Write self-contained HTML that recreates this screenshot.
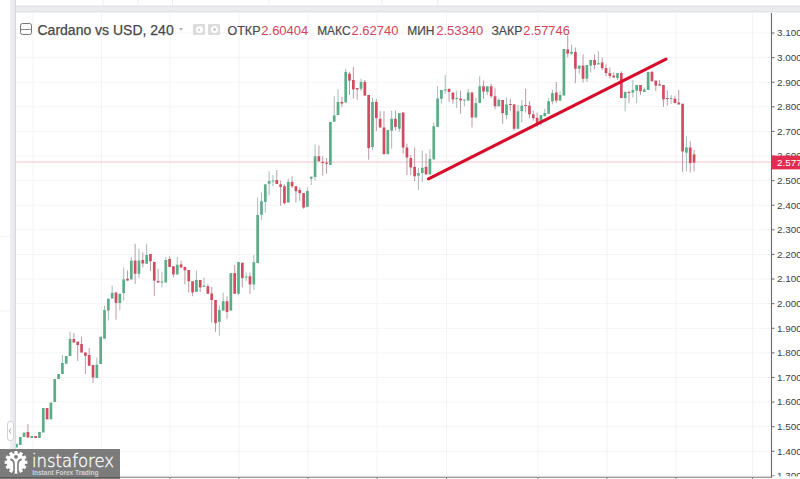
<!DOCTYPE html>
<html><head><meta charset="utf-8"><title>Cardano vs USD</title>
<style>
html,body{margin:0;padding:0;background:#fff;}
body{width:800px;height:479px;position:relative;overflow:hidden;font-family:"Liberation Sans",Arial,sans-serif;}
.abs{position:absolute;white-space:nowrap;}
#topband{position:absolute;left:15px;top:5px;width:785px;height:8.3px;background:linear-gradient(to bottom,#f0f1f3 0,#f0f1f3 1.4px,#e2e4e7 1.4px,#e2e4e7 2.4px,#ebecee 2.4px,#ebecee 6.2px,#e2e4e7 6.2px,#e2e4e7 7.2px,#eff0f2 7.2px);}
#leftband{position:absolute;left:9.5px;top:0;width:6.5px;height:479px;background:linear-gradient(to right,#eef0f2,#e6e9ed);border-right:1px solid #d6dade;box-sizing:border-box;}
.lbl{font-size:12.4px;color:#4a4a4a;top:23px;line-height:14px;}
.val{font-size:13px;color:#d2435d;top:23px;line-height:14px;}
#root{position:absolute;left:0;top:0;width:800px;height:479px;overflow:hidden;background:#fff;}
</style></head><body><div id="root">
<svg width="800" height="479" viewBox="0 0 800 479" style="position:absolute;left:0;top:0">
<g stroke="#f4f4f4" stroke-width="1"><line x1="33" y1="13" x2="33" y2="477" /><line x1="101.5" y1="13" x2="101.5" y2="477" /><line x1="170" y1="13" x2="170" y2="477" /><line x1="239" y1="13" x2="239" y2="477" /><line x1="308" y1="13" x2="308" y2="477" /><line x1="377" y1="13" x2="377" y2="477" /><line x1="446.5" y1="13" x2="446.5" y2="477" /><line x1="538" y1="13" x2="538" y2="477" /><line x1="607" y1="13" x2="607" y2="477" /><line x1="676" y1="13" x2="676" y2="477" /><line x1="752.5" y1="13" x2="752.5" y2="477" /><line x1="16" y1="33.0" x2="771" y2="33.0" /><line x1="16" y1="57.61" x2="771" y2="57.61" /><line x1="16" y1="82.21" x2="771" y2="82.21" /><line x1="16" y1="106.82" x2="771" y2="106.82" /><line x1="16" y1="131.42" x2="771" y2="131.42" /><line x1="16" y1="156.03" x2="771" y2="156.03" /><line x1="16" y1="180.64" x2="771" y2="180.64" /><line x1="16" y1="205.24" x2="771" y2="205.24" /><line x1="16" y1="229.85" x2="771" y2="229.85" /><line x1="16" y1="254.45" x2="771" y2="254.45" /><line x1="16" y1="279.06" x2="771" y2="279.06" /><line x1="16" y1="303.67" x2="771" y2="303.67" /><line x1="16" y1="328.27" x2="771" y2="328.27" /><line x1="16" y1="352.88" x2="771" y2="352.88" /><line x1="16" y1="377.48" x2="771" y2="377.48" /><line x1="16" y1="402.09" x2="771" y2="402.09" /><line x1="16" y1="426.7" x2="771" y2="426.7" /><line x1="16" y1="451.3" x2="771" y2="451.3" /><line x1="16" y1="475.91" x2="771" y2="475.91" /></g>
<g stroke="#eeeeee" stroke-width="1"><line x1="103" y1="0" x2="103" y2="6"/><line x1="138" y1="0" x2="138" y2="6"/><line x1="172.5" y1="0" x2="172.5" y2="6"/><line x1="269" y1="0" x2="269" y2="6"/><line x1="382" y1="0" x2="382" y2="6"/><line x1="437.7" y1="0" x2="437.7" y2="6"/></g>
<g stroke="#f1f1f1" stroke-width="1"><line x1="0" y1="236.7" x2="10" y2="236.7"/><line x1="0" y1="311" x2="10" y2="311"/></g>
<line x1="16" y1="162" x2="771" y2="162" stroke="#f5c3cb" stroke-width="1"/>
<g><rect x="15.12" y="443.8" width="2.7" height="3.70" fill="#5cac88"/><rect x="18.94" y="437.0" width="2.7" height="8.00" fill="#5cac88"/><rect x="22.77" y="432.5" width="2.7" height="4.50" fill="#5cac88"/><line x1="27.95" y1="424.0" x2="27.95" y2="437.5" stroke="#a07080" stroke-width="1.0" stroke-opacity="0.7"/><rect x="26.60" y="432.0" width="2.7" height="5.50" fill="#d04c60"/><rect x="30.43" y="436.0" width="2.7" height="2.00" fill="#5cac88"/><rect x="34.26" y="436.0" width="2.7" height="2.00" fill="#d04c60"/><rect x="38.09" y="432.0" width="2.7" height="6.00" fill="#5cac88"/><rect x="41.91" y="408.0" width="2.7" height="24.50" fill="#5cac88"/><rect x="45.74" y="408.0" width="2.7" height="11.40" fill="#d04c60"/><rect x="49.57" y="402.5" width="2.7" height="16.90" fill="#5cac88"/><rect x="53.40" y="379.0" width="2.7" height="23.00" fill="#5cac88"/><rect x="57.23" y="374.0" width="2.7" height="5.00" fill="#5cac88"/><line x1="62.41" y1="355.0" x2="62.41" y2="374.0" stroke="#80a098" stroke-width="1.0" stroke-opacity="0.7"/><rect x="61.06" y="363.0" width="2.7" height="11.00" fill="#5cac88"/><rect x="64.88" y="356.0" width="2.7" height="7.70" fill="#5cac88"/><line x1="70.06" y1="331.7" x2="70.06" y2="356.0" stroke="#80a098" stroke-width="1.0" stroke-opacity="0.7"/><rect x="68.71" y="339.0" width="2.7" height="17.00" fill="#5cac88"/><line x1="73.89" y1="333.0" x2="73.89" y2="342.5" stroke="#a07080" stroke-width="1.0" stroke-opacity="0.7"/><rect x="72.54" y="339.0" width="2.7" height="3.50" fill="#d04c60"/><line x1="77.72" y1="341.7" x2="77.72" y2="361.0" stroke="#a07080" stroke-width="1.0" stroke-opacity="0.7"/><rect x="76.37" y="341.7" width="2.7" height="3.30" fill="#d04c60"/><line x1="81.55" y1="336.7" x2="81.55" y2="352.5" stroke="#a07080" stroke-width="1.0" stroke-opacity="0.7"/><rect x="80.20" y="344.0" width="2.7" height="8.50" fill="#d04c60"/><line x1="85.38" y1="352.5" x2="85.38" y2="374.0" stroke="#a07080" stroke-width="1.0" stroke-opacity="0.7"/><rect x="84.03" y="352.5" width="2.7" height="3.30" fill="#d04c60"/><line x1="89.20" y1="348.0" x2="89.20" y2="365.8" stroke="#a07080" stroke-width="1.0" stroke-opacity="0.7"/><rect x="87.85" y="355.0" width="2.7" height="10.80" fill="#d04c60"/><line x1="93.03" y1="365.0" x2="93.03" y2="383.0" stroke="#a07080" stroke-width="1.0" stroke-opacity="0.7"/><rect x="91.68" y="365.0" width="2.7" height="12.50" fill="#d04c60"/><line x1="96.86" y1="357.5" x2="96.86" y2="378.0" stroke="#80a098" stroke-width="1.0" stroke-opacity="0.7"/><rect x="95.51" y="364.7" width="2.7" height="13.30" fill="#5cac88"/><rect x="99.34" y="336.7" width="2.7" height="27.30" fill="#5cac88"/><line x1="104.52" y1="305.6" x2="104.52" y2="338.7" stroke="#80a098" stroke-width="1.0" stroke-opacity="0.7"/><rect x="103.17" y="310.0" width="2.7" height="28.70" fill="#5cac88"/><line x1="108.35" y1="298.7" x2="108.35" y2="320.6" stroke="#80a098" stroke-width="1.0" stroke-opacity="0.7"/><rect x="107.00" y="298.7" width="2.7" height="11.90" fill="#5cac88"/><line x1="112.17" y1="285.6" x2="112.17" y2="298.5" stroke="#80a098" stroke-width="1.0" stroke-opacity="0.7"/><rect x="110.82" y="292.9" width="2.7" height="5.60" fill="#5cac88"/><line x1="116.00" y1="292.5" x2="116.00" y2="319.7" stroke="#a07080" stroke-width="1.0" stroke-opacity="0.7"/><rect x="114.65" y="292.5" width="2.7" height="10.40" fill="#d04c60"/><line x1="119.83" y1="293.75" x2="119.83" y2="310.0" stroke="#80a098" stroke-width="1.0" stroke-opacity="0.7"/><rect x="118.48" y="293.75" width="2.7" height="9.25" fill="#5cac88"/><line x1="123.66" y1="267.5" x2="123.66" y2="300.6" stroke="#80a098" stroke-width="1.0" stroke-opacity="0.7"/><rect x="122.31" y="279.4" width="2.7" height="13.60" fill="#5cac88"/><line x1="127.49" y1="270.6" x2="127.49" y2="280.6" stroke="#a07080" stroke-width="1.0" stroke-opacity="0.7"/><rect x="126.14" y="278.75" width="2.7" height="1.85" fill="#d04c60"/><line x1="131.31" y1="257.0" x2="131.31" y2="279.4" stroke="#80a098" stroke-width="1.0" stroke-opacity="0.7"/><rect x="129.97" y="260.6" width="2.7" height="18.80" fill="#5cac88"/><line x1="135.14" y1="243.75" x2="135.14" y2="283.75" stroke="#a07080" stroke-width="1.0" stroke-opacity="0.7"/><rect x="133.79" y="260.6" width="2.7" height="13.15" fill="#d04c60"/><line x1="138.97" y1="248.75" x2="138.97" y2="278.0" stroke="#80a098" stroke-width="1.0" stroke-opacity="0.7"/><rect x="137.62" y="260.6" width="2.7" height="13.15" fill="#5cac88"/><line x1="142.80" y1="252.5" x2="142.80" y2="267.5" stroke="#a07080" stroke-width="1.0" stroke-opacity="0.7"/><rect x="141.45" y="260.0" width="2.7" height="3.50" fill="#d04c60"/><line x1="146.63" y1="243.75" x2="146.63" y2="263.75" stroke="#80a098" stroke-width="1.0" stroke-opacity="0.7"/><rect x="145.28" y="255.0" width="2.7" height="8.75" fill="#5cac88"/><line x1="150.46" y1="254.0" x2="150.46" y2="271.0" stroke="#a07080" stroke-width="1.0" stroke-opacity="0.7"/><rect x="149.11" y="254.0" width="2.7" height="7.25" fill="#d04c60"/><line x1="154.28" y1="261.9" x2="154.28" y2="296.0" stroke="#a07080" stroke-width="1.0" stroke-opacity="0.7"/><rect x="152.93" y="261.9" width="2.7" height="18.70" fill="#d04c60"/><line x1="158.11" y1="268.75" x2="158.11" y2="282.5" stroke="#a07080" stroke-width="1.0" stroke-opacity="0.7"/><rect x="156.76" y="281.0" width="2.7" height="1.50" fill="#d04c60"/><line x1="161.94" y1="272.0" x2="161.94" y2="287.5" stroke="#80a098" stroke-width="1.0" stroke-opacity="0.7"/><rect x="160.59" y="281.5" width="2.7" height="1.00" fill="#5cac88"/><line x1="165.77" y1="257.0" x2="165.77" y2="282.5" stroke="#80a098" stroke-width="1.0" stroke-opacity="0.7"/><rect x="164.42" y="260.0" width="2.7" height="22.50" fill="#5cac88"/><line x1="169.60" y1="256.25" x2="169.60" y2="266.9" stroke="#a07080" stroke-width="1.0" stroke-opacity="0.7"/><rect x="168.25" y="259.0" width="2.7" height="7.90" fill="#d04c60"/><line x1="173.43" y1="266.25" x2="173.43" y2="277.5" stroke="#a07080" stroke-width="1.0" stroke-opacity="0.7"/><rect x="172.08" y="266.25" width="2.7" height="8.15" fill="#d04c60"/><line x1="177.25" y1="256.9" x2="177.25" y2="274.4" stroke="#80a098" stroke-width="1.0" stroke-opacity="0.7"/><rect x="175.90" y="264.75" width="2.7" height="9.65" fill="#5cac88"/><line x1="181.08" y1="260.6" x2="181.08" y2="267.5" stroke="#a07080" stroke-width="1.0" stroke-opacity="0.7"/><rect x="179.73" y="264.4" width="2.7" height="3.10" fill="#d04c60"/><line x1="184.91" y1="266.9" x2="184.91" y2="284.4" stroke="#a07080" stroke-width="1.0" stroke-opacity="0.7"/><rect x="183.56" y="266.9" width="2.7" height="3.35" fill="#d04c60"/><line x1="188.74" y1="270.0" x2="188.74" y2="292.5" stroke="#a07080" stroke-width="1.0" stroke-opacity="0.7"/><rect x="187.39" y="270.0" width="2.7" height="11.25" fill="#d04c60"/><line x1="192.57" y1="281.25" x2="192.57" y2="296.25" stroke="#a07080" stroke-width="1.0" stroke-opacity="0.7"/><rect x="191.22" y="281.25" width="2.7" height="11.25" fill="#d04c60"/><line x1="196.40" y1="270.6" x2="196.40" y2="291.9" stroke="#80a098" stroke-width="1.0" stroke-opacity="0.7"/><rect x="195.05" y="280.0" width="2.7" height="11.90" fill="#5cac88"/><line x1="200.22" y1="280.0" x2="200.22" y2="291.9" stroke="#a07080" stroke-width="1.0" stroke-opacity="0.7"/><rect x="198.87" y="280.0" width="2.7" height="7.50" fill="#d04c60"/><line x1="204.05" y1="277.5" x2="204.05" y2="286.9" stroke="#80a098" stroke-width="1.0" stroke-opacity="0.7"/><rect x="202.70" y="285.6" width="2.7" height="1.30" fill="#5cac88"/><line x1="207.88" y1="283.75" x2="207.88" y2="293.75" stroke="#a07080" stroke-width="1.0" stroke-opacity="0.7"/><rect x="206.53" y="286.25" width="2.7" height="7.50" fill="#d04c60"/><line x1="211.71" y1="287.0" x2="211.71" y2="322.5" stroke="#a07080" stroke-width="1.0" stroke-opacity="0.7"/><rect x="210.36" y="293.5" width="2.7" height="6.50" fill="#d04c60"/><line x1="215.54" y1="300.0" x2="215.54" y2="331.9" stroke="#a07080" stroke-width="1.0" stroke-opacity="0.7"/><rect x="214.19" y="300.0" width="2.7" height="23.10" fill="#d04c60"/><line x1="219.37" y1="305.6" x2="219.37" y2="335.6" stroke="#80a098" stroke-width="1.0" stroke-opacity="0.7"/><rect x="218.02" y="310.0" width="2.7" height="11.90" fill="#5cac88"/><line x1="223.19" y1="292.5" x2="223.19" y2="310.6" stroke="#80a098" stroke-width="1.0" stroke-opacity="0.7"/><rect x="221.84" y="301.25" width="2.7" height="9.35" fill="#5cac88"/><line x1="227.02" y1="296.25" x2="227.02" y2="318.75" stroke="#a07080" stroke-width="1.0" stroke-opacity="0.7"/><rect x="225.67" y="301.25" width="2.7" height="10.65" fill="#d04c60"/><rect x="229.50" y="273.1" width="2.7" height="37.50" fill="#5cac88"/><line x1="234.68" y1="265.0" x2="234.68" y2="293.75" stroke="#a07080" stroke-width="1.0" stroke-opacity="0.7"/><rect x="233.33" y="273.1" width="2.7" height="20.65" fill="#d04c60"/><line x1="238.51" y1="261.9" x2="238.51" y2="295.0" stroke="#80a098" stroke-width="1.0" stroke-opacity="0.7"/><rect x="237.16" y="261.9" width="2.7" height="31.85" fill="#5cac88"/><line x1="242.34" y1="262.75" x2="242.34" y2="287.5" stroke="#a07080" stroke-width="1.0" stroke-opacity="0.7"/><rect x="240.99" y="262.75" width="2.7" height="15.35" fill="#d04c60"/><line x1="246.16" y1="272.5" x2="246.16" y2="281.25" stroke="#80a098" stroke-width="1.0" stroke-opacity="0.7"/><rect x="244.81" y="276.5" width="2.7" height="1.00" fill="#5cac88"/><line x1="249.99" y1="272.5" x2="249.99" y2="293.75" stroke="#a07080" stroke-width="1.0" stroke-opacity="0.7"/><rect x="248.64" y="276.25" width="2.7" height="8.15" fill="#d04c60"/><line x1="253.82" y1="255.0" x2="253.82" y2="290.0" stroke="#80a098" stroke-width="1.0" stroke-opacity="0.7"/><rect x="252.47" y="262.25" width="2.7" height="22.15" fill="#5cac88"/><line x1="257.65" y1="197.5" x2="257.65" y2="263.1" stroke="#80a098" stroke-width="1.0" stroke-opacity="0.7"/><rect x="256.30" y="215.0" width="2.7" height="48.10" fill="#5cac88"/><line x1="261.48" y1="192.5" x2="261.48" y2="220.0" stroke="#80a098" stroke-width="1.0" stroke-opacity="0.7"/><rect x="260.13" y="201.25" width="2.7" height="13.50" fill="#5cac88"/><line x1="265.31" y1="184.4" x2="265.31" y2="212.5" stroke="#80a098" stroke-width="1.0" stroke-opacity="0.7"/><rect x="263.96" y="184.4" width="2.7" height="17.50" fill="#5cac88"/><line x1="269.13" y1="171.25" x2="269.13" y2="195.0" stroke="#80a098" stroke-width="1.0" stroke-opacity="0.7"/><rect x="267.78" y="181.0" width="2.7" height="2.75" fill="#5cac88"/><line x1="272.96" y1="175.0" x2="272.96" y2="186.25" stroke="#80a098" stroke-width="1.0" stroke-opacity="0.7"/><rect x="271.61" y="180.5" width="2.7" height="1.00" fill="#5cac88"/><line x1="276.79" y1="170.0" x2="276.79" y2="184.0" stroke="#a07080" stroke-width="1.0" stroke-opacity="0.7"/><rect x="275.44" y="180.0" width="2.7" height="4.00" fill="#d04c60"/><line x1="280.62" y1="180.6" x2="280.62" y2="205.6" stroke="#a07080" stroke-width="1.0" stroke-opacity="0.7"/><rect x="279.27" y="184.4" width="2.7" height="2.50" fill="#d04c60"/><line x1="284.45" y1="184.4" x2="284.45" y2="204.4" stroke="#a07080" stroke-width="1.0" stroke-opacity="0.7"/><rect x="283.10" y="186.25" width="2.7" height="16.85" fill="#d04c60"/><line x1="288.28" y1="178.75" x2="288.28" y2="202.5" stroke="#80a098" stroke-width="1.0" stroke-opacity="0.7"/><rect x="286.93" y="181.9" width="2.7" height="20.60" fill="#5cac88"/><line x1="292.10" y1="176.25" x2="292.10" y2="188.0" stroke="#a07080" stroke-width="1.0" stroke-opacity="0.7"/><rect x="290.75" y="181.9" width="2.7" height="4.35" fill="#d04c60"/><line x1="295.93" y1="186.25" x2="295.93" y2="202.5" stroke="#a07080" stroke-width="1.0" stroke-opacity="0.7"/><rect x="294.58" y="186.25" width="2.7" height="5.00" fill="#d04c60"/><line x1="299.76" y1="187.5" x2="299.76" y2="201.0" stroke="#a07080" stroke-width="1.0" stroke-opacity="0.7"/><rect x="298.41" y="190.0" width="2.7" height="3.20" fill="#d04c60"/><line x1="303.59" y1="193.1" x2="303.59" y2="208.75" stroke="#a07080" stroke-width="1.0" stroke-opacity="0.7"/><rect x="302.24" y="193.1" width="2.7" height="14.40" fill="#d04c60"/><line x1="307.42" y1="187.5" x2="307.42" y2="206.9" stroke="#80a098" stroke-width="1.0" stroke-opacity="0.7"/><rect x="306.07" y="191.0" width="2.7" height="15.90" fill="#5cac88"/><line x1="311.25" y1="176.7" x2="311.25" y2="185.0" stroke="#80a098" stroke-width="1.0" stroke-opacity="0.7"/><rect x="309.90" y="176.7" width="2.7" height="2.05" fill="#5cac88"/><line x1="315.07" y1="144.4" x2="315.07" y2="180.4" stroke="#80a098" stroke-width="1.0" stroke-opacity="0.7"/><rect x="313.72" y="156.25" width="2.7" height="20.75" fill="#5cac88"/><line x1="318.90" y1="145.6" x2="318.90" y2="161.25" stroke="#a07080" stroke-width="1.0" stroke-opacity="0.7"/><rect x="317.55" y="156.25" width="2.7" height="5.00" fill="#d04c60"/><line x1="322.73" y1="156.25" x2="322.73" y2="175.6" stroke="#a07080" stroke-width="1.0" stroke-opacity="0.7"/><rect x="321.38" y="161.9" width="2.7" height="1.20" fill="#d04c60"/><line x1="326.56" y1="158.0" x2="326.56" y2="173.75" stroke="#a07080" stroke-width="1.0" stroke-opacity="0.7"/><rect x="325.21" y="162.5" width="2.7" height="1.25" fill="#d04c60"/><rect x="329.04" y="121.9" width="2.7" height="43.10" fill="#5cac88"/><line x1="334.21" y1="96.25" x2="334.21" y2="121.7" stroke="#80a098" stroke-width="1.0" stroke-opacity="0.7"/><rect x="332.86" y="115.4" width="2.7" height="6.30" fill="#5cac88"/><line x1="338.04" y1="89.4" x2="338.04" y2="115.0" stroke="#80a098" stroke-width="1.0" stroke-opacity="0.7"/><rect x="336.69" y="102.0" width="2.7" height="13.00" fill="#5cac88"/><line x1="341.87" y1="96.9" x2="341.87" y2="106.9" stroke="#a07080" stroke-width="1.0" stroke-opacity="0.7"/><rect x="340.52" y="102.0" width="2.7" height="1.50" fill="#d04c60"/><line x1="345.70" y1="68.75" x2="345.70" y2="102.5" stroke="#80a098" stroke-width="1.0" stroke-opacity="0.7"/><rect x="344.35" y="71.9" width="2.7" height="30.60" fill="#5cac88"/><line x1="349.53" y1="71.9" x2="349.53" y2="95.0" stroke="#a07080" stroke-width="1.0" stroke-opacity="0.7"/><rect x="348.18" y="73.75" width="2.7" height="6.85" fill="#d04c60"/><line x1="353.36" y1="66.9" x2="353.36" y2="98.75" stroke="#a07080" stroke-width="1.0" stroke-opacity="0.7"/><rect x="352.01" y="80.0" width="2.7" height="9.40" fill="#d04c60"/><line x1="357.18" y1="88.0" x2="357.18" y2="100.0" stroke="#a07080" stroke-width="1.0" stroke-opacity="0.7"/><rect x="355.83" y="88.0" width="2.7" height="1.40" fill="#d04c60"/><line x1="361.01" y1="78.75" x2="361.01" y2="91.25" stroke="#80a098" stroke-width="1.0" stroke-opacity="0.7"/><rect x="359.66" y="81.9" width="2.7" height="6.85" fill="#5cac88"/><line x1="364.84" y1="80.0" x2="364.84" y2="95.6" stroke="#a07080" stroke-width="1.0" stroke-opacity="0.7"/><rect x="363.49" y="81.9" width="2.7" height="13.70" fill="#d04c60"/><line x1="368.67" y1="95.0" x2="368.67" y2="159.7" stroke="#a07080" stroke-width="1.0" stroke-opacity="0.7"/><rect x="367.32" y="95.0" width="2.7" height="53.10" fill="#d04c60"/><line x1="372.50" y1="97.5" x2="372.50" y2="150.0" stroke="#80a098" stroke-width="1.0" stroke-opacity="0.7"/><rect x="371.15" y="101.9" width="2.7" height="45.10" fill="#5cac88"/><line x1="376.33" y1="98.75" x2="376.33" y2="131.25" stroke="#a07080" stroke-width="1.0" stroke-opacity="0.7"/><rect x="374.98" y="101.9" width="2.7" height="16.20" fill="#d04c60"/><line x1="380.15" y1="111.25" x2="380.15" y2="127.5" stroke="#a07080" stroke-width="1.0" stroke-opacity="0.7"/><rect x="378.80" y="118.75" width="2.7" height="8.75" fill="#d04c60"/><line x1="383.98" y1="111.25" x2="383.98" y2="154.2" stroke="#a07080" stroke-width="1.0" stroke-opacity="0.7"/><rect x="382.63" y="127.5" width="2.7" height="26.70" fill="#d04c60"/><rect x="386.46" y="130.0" width="2.7" height="24.20" fill="#5cac88"/><line x1="391.64" y1="110.6" x2="391.64" y2="148.75" stroke="#80a098" stroke-width="1.0" stroke-opacity="0.7"/><rect x="390.29" y="118.75" width="2.7" height="11.85" fill="#5cac88"/><line x1="395.47" y1="110.6" x2="395.47" y2="130.6" stroke="#a07080" stroke-width="1.0" stroke-opacity="0.7"/><rect x="394.12" y="118.75" width="2.7" height="8.15" fill="#d04c60"/><line x1="399.30" y1="113.1" x2="399.30" y2="131.9" stroke="#80a098" stroke-width="1.0" stroke-opacity="0.7"/><rect x="397.95" y="113.1" width="2.7" height="15.65" fill="#5cac88"/><line x1="403.12" y1="112.5" x2="403.12" y2="153.75" stroke="#a07080" stroke-width="1.0" stroke-opacity="0.7"/><rect x="401.77" y="112.5" width="2.7" height="35.00" fill="#d04c60"/><line x1="406.95" y1="143.75" x2="406.95" y2="175.0" stroke="#a07080" stroke-width="1.0" stroke-opacity="0.7"/><rect x="405.60" y="147.5" width="2.7" height="10.00" fill="#d04c60"/><line x1="410.78" y1="155.0" x2="410.78" y2="175.0" stroke="#a07080" stroke-width="1.0" stroke-opacity="0.7"/><rect x="409.43" y="158.1" width="2.7" height="9.40" fill="#d04c60"/><line x1="414.61" y1="147.5" x2="414.61" y2="181.25" stroke="#a07080" stroke-width="1.0" stroke-opacity="0.7"/><rect x="413.26" y="166.9" width="2.7" height="9.35" fill="#d04c60"/><line x1="418.44" y1="168.0" x2="418.44" y2="190.0" stroke="#80a098" stroke-width="1.0" stroke-opacity="0.7"/><rect x="417.09" y="173.1" width="2.7" height="2.50" fill="#5cac88"/><line x1="422.27" y1="150.6" x2="422.27" y2="181.9" stroke="#80a098" stroke-width="1.0" stroke-opacity="0.7"/><rect x="420.92" y="167.75" width="2.7" height="5.35" fill="#5cac88"/><line x1="426.09" y1="153.75" x2="426.09" y2="174.4" stroke="#a07080" stroke-width="1.0" stroke-opacity="0.7"/><rect x="424.74" y="166.9" width="2.7" height="7.50" fill="#d04c60"/><line x1="429.92" y1="149.4" x2="429.92" y2="174.4" stroke="#80a098" stroke-width="1.0" stroke-opacity="0.7"/><rect x="428.57" y="158.75" width="2.7" height="15.65" fill="#5cac88"/><line x1="433.75" y1="122.5" x2="433.75" y2="159.4" stroke="#80a098" stroke-width="1.0" stroke-opacity="0.7"/><rect x="432.40" y="126.25" width="2.7" height="33.15" fill="#5cac88"/><line x1="437.58" y1="86.25" x2="437.58" y2="126.9" stroke="#80a098" stroke-width="1.0" stroke-opacity="0.7"/><rect x="436.23" y="98.5" width="2.7" height="28.40" fill="#5cac88"/><line x1="441.41" y1="90.0" x2="441.41" y2="103.75" stroke="#80a098" stroke-width="1.0" stroke-opacity="0.7"/><rect x="440.06" y="90.0" width="2.7" height="8.75" fill="#5cac88"/><line x1="445.24" y1="75.0" x2="445.24" y2="93.75" stroke="#80a098" stroke-width="1.0" stroke-opacity="0.7"/><rect x="443.89" y="89.4" width="2.7" height="1.10" fill="#5cac88"/><line x1="449.06" y1="88.75" x2="449.06" y2="101.9" stroke="#a07080" stroke-width="1.0" stroke-opacity="0.7"/><rect x="447.71" y="88.75" width="2.7" height="3.15" fill="#d04c60"/><line x1="452.89" y1="92.5" x2="452.89" y2="103.75" stroke="#a07080" stroke-width="1.0" stroke-opacity="0.7"/><rect x="451.54" y="92.5" width="2.7" height="6.90" fill="#d04c60"/><line x1="456.72" y1="90.6" x2="456.72" y2="108.0" stroke="#80a098" stroke-width="1.0" stroke-opacity="0.7"/><rect x="455.37" y="97.9" width="2.7" height="1.10" fill="#5cac88"/><line x1="460.55" y1="90.6" x2="460.55" y2="113.75" stroke="#a07080" stroke-width="1.0" stroke-opacity="0.7"/><rect x="459.20" y="98.5" width="2.7" height="1.90" fill="#d04c60"/><line x1="464.38" y1="99.6" x2="464.38" y2="106.25" stroke="#80a098" stroke-width="1.0" stroke-opacity="0.7"/><rect x="463.03" y="99.6" width="2.7" height="1.00" fill="#5cac88"/><line x1="468.21" y1="88.75" x2="468.21" y2="100.6" stroke="#80a098" stroke-width="1.0" stroke-opacity="0.7"/><rect x="466.86" y="92.5" width="2.7" height="8.10" fill="#5cac88"/><line x1="472.03" y1="92.5" x2="472.03" y2="127.5" stroke="#a07080" stroke-width="1.0" stroke-opacity="0.7"/><rect x="470.68" y="92.5" width="2.7" height="25.00" fill="#d04c60"/><line x1="475.86" y1="97.5" x2="475.86" y2="117.5" stroke="#80a098" stroke-width="1.0" stroke-opacity="0.7"/><rect x="474.51" y="103.1" width="2.7" height="14.40" fill="#5cac88"/><line x1="479.69" y1="76.25" x2="479.69" y2="103.1" stroke="#80a098" stroke-width="1.0" stroke-opacity="0.7"/><rect x="478.34" y="86.25" width="2.7" height="16.85" fill="#5cac88"/><line x1="483.52" y1="80.6" x2="483.52" y2="98.75" stroke="#a07080" stroke-width="1.0" stroke-opacity="0.7"/><rect x="482.17" y="86.25" width="2.7" height="5.25" fill="#d04c60"/><line x1="487.35" y1="86.25" x2="487.35" y2="95.0" stroke="#80a098" stroke-width="1.0" stroke-opacity="0.7"/><rect x="486.00" y="86.25" width="2.7" height="5.65" fill="#5cac88"/><line x1="491.18" y1="83.75" x2="491.18" y2="98.0" stroke="#a07080" stroke-width="1.0" stroke-opacity="0.7"/><rect x="489.83" y="86.25" width="2.7" height="10.00" fill="#d04c60"/><line x1="495.00" y1="88.1" x2="495.00" y2="109.4" stroke="#a07080" stroke-width="1.0" stroke-opacity="0.7"/><rect x="493.65" y="96.25" width="2.7" height="10.00" fill="#d04c60"/><line x1="498.83" y1="98.0" x2="498.83" y2="106.25" stroke="#80a098" stroke-width="1.0" stroke-opacity="0.7"/><rect x="497.48" y="100.0" width="2.7" height="6.25" fill="#5cac88"/><line x1="502.66" y1="100.0" x2="502.66" y2="123.75" stroke="#a07080" stroke-width="1.0" stroke-opacity="0.7"/><rect x="501.31" y="100.0" width="2.7" height="13.10" fill="#d04c60"/><line x1="506.49" y1="97.5" x2="506.49" y2="119.4" stroke="#80a098" stroke-width="1.0" stroke-opacity="0.7"/><rect x="505.14" y="104.4" width="2.7" height="10.60" fill="#5cac88"/><line x1="510.32" y1="98.75" x2="510.32" y2="111.25" stroke="#a07080" stroke-width="1.0" stroke-opacity="0.7"/><rect x="508.97" y="104.0" width="2.7" height="1.00" fill="#d04c60"/><line x1="514.14" y1="104.4" x2="514.14" y2="130.6" stroke="#a07080" stroke-width="1.0" stroke-opacity="0.7"/><rect x="512.79" y="104.4" width="2.7" height="24.35" fill="#d04c60"/><line x1="517.97" y1="105.0" x2="517.97" y2="128.75" stroke="#80a098" stroke-width="1.0" stroke-opacity="0.7"/><rect x="516.62" y="111.25" width="2.7" height="17.50" fill="#5cac88"/><line x1="521.80" y1="100.0" x2="521.80" y2="122.5" stroke="#80a098" stroke-width="1.0" stroke-opacity="0.7"/><rect x="520.45" y="105.6" width="2.7" height="5.65" fill="#5cac88"/><line x1="525.63" y1="88.75" x2="525.63" y2="112.5" stroke="#a07080" stroke-width="1.0" stroke-opacity="0.7"/><rect x="524.28" y="105.0" width="2.7" height="1.00" fill="#d04c60"/><line x1="529.46" y1="101.25" x2="529.46" y2="118.1" stroke="#a07080" stroke-width="1.0" stroke-opacity="0.7"/><rect x="528.11" y="105.6" width="2.7" height="8.80" fill="#d04c60"/><line x1="533.29" y1="110.6" x2="533.29" y2="120.6" stroke="#a07080" stroke-width="1.0" stroke-opacity="0.7"/><rect x="531.94" y="114.4" width="2.7" height="3.70" fill="#d04c60"/><line x1="537.11" y1="112.5" x2="537.11" y2="126.9" stroke="#a07080" stroke-width="1.0" stroke-opacity="0.7"/><rect x="535.76" y="117.8" width="2.7" height="5.30" fill="#d04c60"/><line x1="540.94" y1="115.0" x2="540.94" y2="125.6" stroke="#80a098" stroke-width="1.0" stroke-opacity="0.7"/><rect x="539.59" y="115.0" width="2.7" height="8.10" fill="#5cac88"/><line x1="544.77" y1="108.75" x2="544.77" y2="116.25" stroke="#80a098" stroke-width="1.0" stroke-opacity="0.7"/><rect x="543.42" y="113.1" width="2.7" height="3.15" fill="#5cac88"/><line x1="548.60" y1="98.1" x2="548.60" y2="113.75" stroke="#80a098" stroke-width="1.0" stroke-opacity="0.7"/><rect x="547.25" y="101.25" width="2.7" height="12.50" fill="#5cac88"/><line x1="552.43" y1="90.0" x2="552.43" y2="104.4" stroke="#80a098" stroke-width="1.0" stroke-opacity="0.7"/><rect x="551.08" y="93.1" width="2.7" height="8.40" fill="#5cac88"/><line x1="556.26" y1="81.9" x2="556.26" y2="103.1" stroke="#a07080" stroke-width="1.0" stroke-opacity="0.7"/><rect x="554.91" y="92.5" width="2.7" height="8.10" fill="#d04c60"/><line x1="560.08" y1="91.25" x2="560.08" y2="100.6" stroke="#80a098" stroke-width="1.0" stroke-opacity="0.7"/><rect x="558.73" y="95.0" width="2.7" height="5.60" fill="#5cac88"/><rect x="562.56" y="49.0" width="2.7" height="46.60" fill="#5cac88"/><line x1="567.74" y1="35.4" x2="567.74" y2="57.5" stroke="#a07080" stroke-width="1.0" stroke-opacity="0.7"/><rect x="566.39" y="49.4" width="2.7" height="4.35" fill="#d04c60"/><line x1="571.57" y1="44.4" x2="571.57" y2="55.0" stroke="#80a098" stroke-width="1.0" stroke-opacity="0.7"/><rect x="570.22" y="51.9" width="2.7" height="1.85" fill="#5cac88"/><line x1="575.40" y1="47.5" x2="575.40" y2="83.1" stroke="#a07080" stroke-width="1.0" stroke-opacity="0.7"/><rect x="574.05" y="51.9" width="2.7" height="16.85" fill="#d04c60"/><line x1="579.23" y1="65.6" x2="579.23" y2="73.75" stroke="#80a098" stroke-width="1.0" stroke-opacity="0.7"/><rect x="577.88" y="65.6" width="2.7" height="3.15" fill="#5cac88"/><line x1="583.05" y1="54.4" x2="583.05" y2="82.5" stroke="#a07080" stroke-width="1.0" stroke-opacity="0.7"/><rect x="581.70" y="65.6" width="2.7" height="13.15" fill="#d04c60"/><line x1="586.88" y1="65.0" x2="586.88" y2="81.9" stroke="#80a098" stroke-width="1.0" stroke-opacity="0.7"/><rect x="585.53" y="65.0" width="2.7" height="13.75" fill="#5cac88"/><line x1="590.71" y1="60.0" x2="590.71" y2="72.5" stroke="#80a098" stroke-width="1.0" stroke-opacity="0.7"/><rect x="589.36" y="60.0" width="2.7" height="5.60" fill="#5cac88"/><line x1="594.54" y1="54.4" x2="594.54" y2="69.4" stroke="#a07080" stroke-width="1.0" stroke-opacity="0.7"/><rect x="593.19" y="60.0" width="2.7" height="5.00" fill="#d04c60"/><line x1="598.37" y1="51.25" x2="598.37" y2="64.4" stroke="#80a098" stroke-width="1.0" stroke-opacity="0.7"/><rect x="597.02" y="63.1" width="2.7" height="1.30" fill="#5cac88"/><line x1="602.20" y1="57.5" x2="602.20" y2="70.0" stroke="#a07080" stroke-width="1.0" stroke-opacity="0.7"/><rect x="600.85" y="62.5" width="2.7" height="5.60" fill="#d04c60"/><line x1="606.02" y1="64.4" x2="606.02" y2="76.25" stroke="#a07080" stroke-width="1.0" stroke-opacity="0.7"/><rect x="604.67" y="68.1" width="2.7" height="5.00" fill="#d04c60"/><line x1="609.85" y1="67.5" x2="609.85" y2="78.5" stroke="#a07080" stroke-width="1.0" stroke-opacity="0.7"/><rect x="608.50" y="73.1" width="2.7" height="2.90" fill="#d04c60"/><line x1="613.68" y1="72.5" x2="613.68" y2="77.5" stroke="#a07080" stroke-width="1.0" stroke-opacity="0.7"/><rect x="612.33" y="75.6" width="2.7" height="1.90" fill="#d04c60"/><line x1="617.51" y1="73.1" x2="617.51" y2="80.0" stroke="#80a098" stroke-width="1.0" stroke-opacity="0.7"/><rect x="616.16" y="73.1" width="2.7" height="5.00" fill="#5cac88"/><line x1="621.34" y1="71.25" x2="621.34" y2="98.1" stroke="#a07080" stroke-width="1.0" stroke-opacity="0.7"/><rect x="619.99" y="73.1" width="2.7" height="25.00" fill="#d04c60"/><line x1="625.17" y1="91.9" x2="625.17" y2="111.25" stroke="#80a098" stroke-width="1.0" stroke-opacity="0.7"/><rect x="623.82" y="91.9" width="2.7" height="6.20" fill="#5cac88"/><line x1="628.99" y1="90.6" x2="628.99" y2="103.1" stroke="#a07080" stroke-width="1.0" stroke-opacity="0.7"/><rect x="627.64" y="91.9" width="2.7" height="1.00" fill="#d04c60"/><line x1="632.82" y1="80.0" x2="632.82" y2="97.5" stroke="#80a098" stroke-width="1.0" stroke-opacity="0.7"/><rect x="631.47" y="90.0" width="2.7" height="2.50" fill="#5cac88"/><line x1="636.65" y1="85.0" x2="636.65" y2="103.1" stroke="#80a098" stroke-width="1.0" stroke-opacity="0.7"/><rect x="635.30" y="85.0" width="2.7" height="5.60" fill="#5cac88"/><line x1="640.48" y1="85.0" x2="640.48" y2="95.0" stroke="#a07080" stroke-width="1.0" stroke-opacity="0.7"/><rect x="639.13" y="85.0" width="2.7" height="6.25" fill="#d04c60"/><line x1="644.31" y1="87.5" x2="644.31" y2="91.9" stroke="#80a098" stroke-width="1.0" stroke-opacity="0.7"/><rect x="642.96" y="89.4" width="2.7" height="2.50" fill="#5cac88"/><rect x="646.79" y="71.9" width="2.7" height="18.10" fill="#5cac88"/><line x1="651.96" y1="70.6" x2="651.96" y2="81.25" stroke="#a07080" stroke-width="1.0" stroke-opacity="0.7"/><rect x="650.61" y="71.9" width="2.7" height="9.35" fill="#d04c60"/><line x1="655.79" y1="80.6" x2="655.79" y2="91.25" stroke="#a07080" stroke-width="1.0" stroke-opacity="0.7"/><rect x="654.44" y="80.6" width="2.7" height="5.00" fill="#d04c60"/><line x1="659.62" y1="80.0" x2="659.62" y2="85.6" stroke="#a07080" stroke-width="1.0" stroke-opacity="0.7"/><rect x="658.27" y="84.4" width="2.7" height="1.20" fill="#d04c60"/><line x1="663.45" y1="85.0" x2="663.45" y2="106.9" stroke="#a07080" stroke-width="1.0" stroke-opacity="0.7"/><rect x="662.10" y="85.0" width="2.7" height="14.40" fill="#d04c60"/><line x1="667.28" y1="90.6" x2="667.28" y2="105.6" stroke="#a07080" stroke-width="1.0" stroke-opacity="0.7"/><rect x="665.93" y="98.0" width="2.7" height="1.00" fill="#d04c60"/><line x1="671.11" y1="95.0" x2="671.11" y2="103.75" stroke="#80a098" stroke-width="1.0" stroke-opacity="0.7"/><rect x="669.76" y="98.0" width="2.7" height="1.00" fill="#5cac88"/><line x1="674.93" y1="95.6" x2="674.93" y2="103.1" stroke="#a07080" stroke-width="1.0" stroke-opacity="0.7"/><rect x="673.58" y="98.75" width="2.7" height="4.35" fill="#d04c60"/><line x1="678.76" y1="90.0" x2="678.76" y2="104.4" stroke="#a07080" stroke-width="1.0" stroke-opacity="0.7"/><rect x="677.41" y="102.5" width="2.7" height="1.90" fill="#d04c60"/><line x1="682.59" y1="103.75" x2="682.59" y2="171.9" stroke="#a07080" stroke-width="1.0" stroke-opacity="0.7"/><rect x="681.24" y="103.75" width="2.7" height="47.75" fill="#d04c60"/><line x1="686.42" y1="136.25" x2="686.42" y2="171.25" stroke="#80a098" stroke-width="1.0" stroke-opacity="0.7"/><rect x="685.07" y="147.5" width="2.7" height="5.25" fill="#5cac88"/><line x1="690.25" y1="141.25" x2="690.25" y2="172.5" stroke="#a07080" stroke-width="1.0" stroke-opacity="0.7"/><rect x="688.90" y="147.5" width="2.7" height="15.60" fill="#d04c60"/><line x1="694.08" y1="150.0" x2="694.08" y2="171.25" stroke="#a07080" stroke-width="1.0" stroke-opacity="0.7"/><rect x="692.73" y="154.4" width="2.7" height="8.10" fill="#d04c60"/></g>
<line x1="428.5" y1="178.8" x2="666" y2="59.1" stroke="#d90b2a" stroke-width="3.0" stroke-linecap="round"/>
<rect x="771" y="13" width="29" height="466" fill="#fff"/>
<line x1="771.5" y1="13" x2="771.5" y2="477.5" stroke="#6a6a6a" stroke-width="1.1"/>
<line x1="16" y1="477.2" x2="771.5" y2="477.2" stroke="#7a7a7a" stroke-width="1.1"/>
<g stroke="#6a6a6a" stroke-width="1"><line x1="771.5" y1="33.00" x2="774.5" y2="33.00"/><line x1="771.5" y1="57.61" x2="774.5" y2="57.61"/><line x1="771.5" y1="82.21" x2="774.5" y2="82.21"/><line x1="771.5" y1="106.82" x2="774.5" y2="106.82"/><line x1="771.5" y1="131.42" x2="774.5" y2="131.42"/><line x1="771.5" y1="156.03" x2="774.5" y2="156.03"/><line x1="771.5" y1="180.64" x2="774.5" y2="180.64"/><line x1="771.5" y1="205.24" x2="774.5" y2="205.24"/><line x1="771.5" y1="229.85" x2="774.5" y2="229.85"/><line x1="771.5" y1="254.45" x2="774.5" y2="254.45"/><line x1="771.5" y1="279.06" x2="774.5" y2="279.06"/><line x1="771.5" y1="303.67" x2="774.5" y2="303.67"/><line x1="771.5" y1="328.27" x2="774.5" y2="328.27"/><line x1="771.5" y1="352.88" x2="774.5" y2="352.88"/><line x1="771.5" y1="377.48" x2="774.5" y2="377.48"/><line x1="771.5" y1="402.09" x2="774.5" y2="402.09"/><line x1="771.5" y1="426.70" x2="774.5" y2="426.70"/><line x1="771.5" y1="451.30" x2="774.5" y2="451.30"/><line x1="771.5" y1="475.91" x2="774.5" y2="475.91"/></g>
<g stroke="#777" stroke-width="1"><line x1="33" y1="477.5" x2="33" y2="479"/><line x1="101.5" y1="477.5" x2="101.5" y2="479"/><line x1="170" y1="477.5" x2="170" y2="479"/><line x1="239" y1="477.5" x2="239" y2="479"/><line x1="308" y1="477.5" x2="308" y2="479"/><line x1="377" y1="477.5" x2="377" y2="479"/><line x1="446.5" y1="477.5" x2="446.5" y2="479"/><line x1="538" y1="477.5" x2="538" y2="479"/><line x1="607" y1="477.5" x2="607" y2="479"/><line x1="676" y1="477.5" x2="676" y2="479"/><line x1="752.5" y1="477.5" x2="752.5" y2="479"/></g>
<g font-family="Liberation Sans, Arial, sans-serif" font-size="9.9" fill="#404040"><text x="777" y="36.40">3.100</text><text x="777" y="61.01">3.000</text><text x="777" y="85.61">2.900</text><text x="777" y="110.22">2.800</text><text x="777" y="134.82">2.700</text><text x="777" y="159.43">2.600</text><text x="777" y="184.04">2.500</text><text x="777" y="208.64">2.400</text><text x="777" y="233.25">2.300</text><text x="777" y="257.85">2.200</text><text x="777" y="282.46">2.100</text><text x="777" y="307.07">2.000</text><text x="777" y="331.67">1.900</text><text x="777" y="356.28">1.800</text><text x="777" y="380.88">1.700</text><text x="777" y="405.49">1.600</text><text x="777" y="430.10">1.500</text><text x="777" y="454.70">1.400</text><text x="777" y="479.31">1.300</text></g>
<rect x="772" y="476.4" width="28" height="3" fill="#fff"/>
<line x1="771.5" y1="476" x2="771.5" y2="477.5" stroke="#6a6a6a" stroke-width="1.1"/>
<rect x="771" y="155.6" width="29" height="13.8" fill="#e22c52"/>
<text x="777" y="166" font-family="Liberation Sans, Arial, sans-serif" font-size="9.9" fill="#fff">2.577</text>
</svg>
<div id="topband"></div>
<div id="leftband"></div>
<!-- header -->
<div class="abs" style="left:20.3px;top:23.3px;width:11.4px;height:11.3px;border:1px solid #767676;border-radius:2.5px;box-sizing:border-box;"></div>
<div class="abs" style="left:21.3px;top:28.6px;width:9.4px;height:1px;background:#8a8a8a;"></div>
<div class="abs" style="left:37.5px;top:21.5px;font-size:14px;line-height:16px;color:#484848;-webkit-text-stroke:0.25px #484848;">Cardano vs USD, 240</div>
<div class="abs" style="left:178.5px;top:27.5px;width:0;height:0;border-left:2.5px solid transparent;border-right:2.5px solid transparent;border-top:3px solid #b4b4b4;"></div>
<div class="abs" style="left:193px;top:24px;width:12px;height:11px;background:#dcdcdc;border-radius:1px;"><div style="position:absolute;left:2.5px;top:2px;width:7px;height:7px;border-radius:50%;background:#fff;"></div><div style="position:absolute;left:5px;top:4.5px;width:2px;height:2.5px;border-radius:1px;background:#c8c8c8;"></div></div>
<div class="abs" style="left:208px;top:24px;width:12px;height:11px;background:#dcdcdc;border-radius:1px;"><div style="position:absolute;left:2.5px;top:2px;width:7px;height:7px;border-radius:50%;background:#fff;"></div><div style="position:absolute;left:4.5px;top:4px;width:3px;height:3px;border-radius:50%;background:#c8c8c8;"></div></div>
<svg class="abs" style="left:0;top:0" width="800" height="60" viewBox="0 0 800 60">
<g font-family="Liberation Sans, Arial, sans-serif" font-size="12.8">
<text x="227.5" y="34.6" fill="#4a4a4a" stroke="#4a4a4a" stroke-width="0.2" textLength="33" lengthAdjust="spacingAndGlyphs">ОТКР</text>
<text x="261.3" y="34.6" fill="#d2435d" textLength="47" lengthAdjust="spacingAndGlyphs">2.60404</text>
<text x="317.2" y="34.6" fill="#4a4a4a" stroke="#4a4a4a" stroke-width="0.2" textLength="33.3" lengthAdjust="spacingAndGlyphs">МАКС</text>
<text x="351.5" y="34.6" fill="#d2435d" textLength="47" lengthAdjust="spacingAndGlyphs">2.62740</text>
<text x="407.2" y="34.6" fill="#4a4a4a" stroke="#4a4a4a" stroke-width="0.2" textLength="27.3" lengthAdjust="spacingAndGlyphs">МИН</text>
<text x="436.2" y="34.6" fill="#d2435d" textLength="47" lengthAdjust="spacingAndGlyphs">2.53340</text>
<text x="491.4" y="34.6" fill="#4a4a4a" stroke="#4a4a4a" stroke-width="0.2" textLength="31" lengthAdjust="spacingAndGlyphs">ЗАКР</text>
<text x="523.3" y="34.6" fill="#d2435d" textLength="46.5" lengthAdjust="spacingAndGlyphs">2.57746</text>
</g>
</svg>
<!-- left collapse button -->
<div class="abs" style="left:6.5px;top:420.5px;width:7px;height:20px;background:#fff;border:1px solid #cfd3d8;border-radius:3px;box-sizing:border-box;"></div>
<svg class="abs" style="left:6px;top:420px" width="9" height="22" viewBox="0 0 9 22"><path d="M5 8.5 L3.3 11 L5 13.5" fill="none" stroke="#9aa0a6" stroke-width="0.9"/></svg>
<!-- logo -->
<div class="abs" style="left:0;top:449px;width:120px;height:30px;background:#7b7b7b;"></div>
<svg class="abs" style="left:0;top:449px" width="120" height="30" viewBox="0 0 120 30">
<g transform="translate(16,13.3)" fill="#fff">
<circle r="9.3"/>
<rect x="-1.6" y="-11.3" width="3.2" height="4" transform="rotate(0)"/><rect x="-1.6" y="-11.3" width="3.2" height="4" transform="rotate(30)"/><rect x="-1.6" y="-11.3" width="3.2" height="4" transform="rotate(60)"/><rect x="-1.6" y="-11.3" width="3.2" height="4" transform="rotate(90)"/><rect x="-1.6" y="-11.3" width="3.2" height="4" transform="rotate(120)"/><rect x="-1.6" y="-11.3" width="3.2" height="4" transform="rotate(150)"/><rect x="-1.6" y="-11.3" width="3.2" height="4" transform="rotate(180)"/><rect x="-1.6" y="-11.3" width="3.2" height="4" transform="rotate(210)"/><rect x="-1.6" y="-11.3" width="3.2" height="4" transform="rotate(240)"/><rect x="-1.6" y="-11.3" width="3.2" height="4" transform="rotate(270)"/><rect x="-1.6" y="-11.3" width="3.2" height="4" transform="rotate(300)"/><rect x="-1.6" y="-11.3" width="3.2" height="4" transform="rotate(330)"/>
</g>
<g fill="none" stroke="#7b7b7b" stroke-width="1.6">
<circle cx="16" cy="7.8" r="1.9" fill="#7b7b7b" stroke="none"/>
<path d="M10.2 10.2 Q13.5 11 14 14 L14 23.5"/>
<path d="M21.8 10.2 Q18.5 11 18 14 L18 23.5"/>
</g>
<text x="32" y="18.4" font-family="DejaVu Sans, sans-serif" font-weight="200" font-size="18.5" fill="#fff" stroke="#fff" stroke-width="0.35" textLength="82" lengthAdjust="spacingAndGlyphs">instaforex</text>
<text x="32.2" y="26.3" font-family="Liberation Sans, Arial, sans-serif" font-weight="bold" font-size="7" fill="#d0d0d0" textLength="66.4" lengthAdjust="spacingAndGlyphs">Instant Forex Trading</text>
</svg>
<div class="abs" style="left:0;top:477px;width:120px;height:1px;background:#5e5e5e;"></div>
</div></body></html>
